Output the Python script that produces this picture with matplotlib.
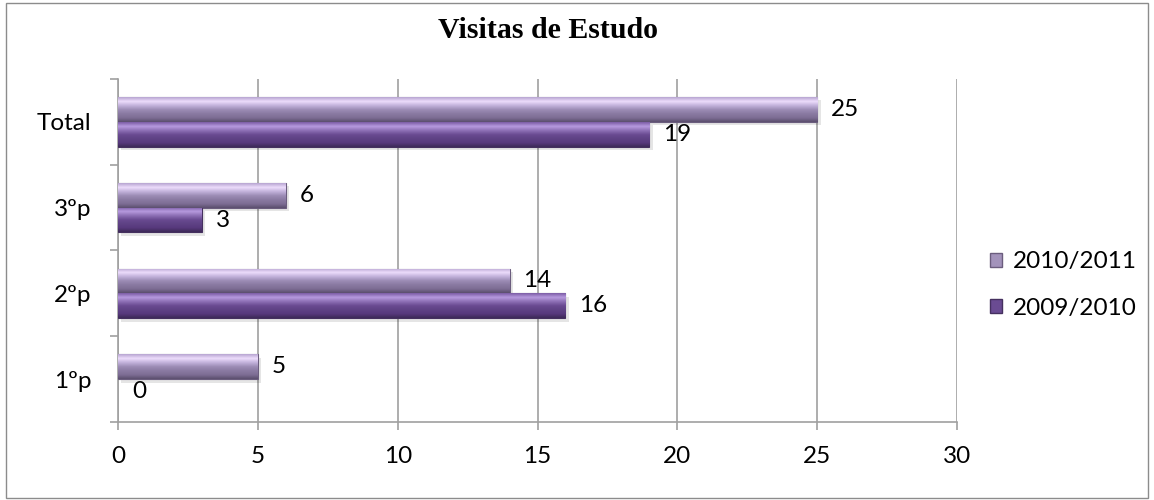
import numpy as np
import matplotlib
matplotlib.use("Agg")
import matplotlib.pyplot as plt
from matplotlib.colors import LinearSegmentedColormap
from matplotlib.patches import Patch, Rectangle

categories = ["1ºp", "2ºp", "3ºp", "Total"]
s2010_2011 = [5, 14, 6, 25]
s2009_2010 = [0, 16, 3, 19]
series_names = ["2010/2011", "2009/2010"]
xticks = [0, 5, 10, 15, 20, 25, 30]

# gradient colours (bottom -> top) per series
grad_light = ["#5c4f6e", "#7e6e95", "#8a7aa2", "#9d8db6", "#c3b2dc", "#ecdcfb", "#b8a6d2"]
grad_dark = ["#3d2a58", "#58397d", "#5f4285", "#6a4b92", "#8e70b6", "#b79ade", "#7c5da6"]
edge_light = "#6b5d7e"
edge_dark = "#45305f"

font_main = ["Lato", "DejaVu Sans"]
fs = 17.5

fig = plt.figure(figsize=(11.54, 5.0), dpi=100)
ax = fig.add_axes([0.1023, 0.156, 0.727, 0.686])

y = np.arange(len(categories))
h = 0.29
off = h / 2

def grad_bars(ypos, vals, colors, edge):
    cmap = LinearSegmentedColormap.from_list("g", colors)
    g = np.linspace(0, 1, 64).reshape(-1, 1)
    # shadow
    sh = ax.barh(ypos - 0.04, vals, height=h, left=0.12, color="black", alpha=0.10,
                 zorder=2, linewidth=0)
    bars = ax.barh(ypos, vals, height=h, color=colors[3], edgecolor=edge,
                   linewidth=0.8, zorder=3)
    for b, s in zip(bars, sh):
        x0, y0 = b.get_x(), b.get_y()
        w, hh = b.get_width(), b.get_height()
        if w <= 0:
            b.set_visible(False)
            s.set_visible(False)
            continue
        im = ax.imshow(g, extent=[x0, x0 + w, y0, y0 + hh], origin="lower",
                       aspect="auto", cmap=cmap, zorder=3.5, interpolation="bilinear")
        im.set_clip_path(b)
    return bars

b1 = grad_bars(y + off, s2010_2011, grad_light, edge_light)
b2 = grad_bars(y - off, s2009_2010, grad_dark, edge_dark)

for bars, vals in ((b1, s2010_2011), (b2, s2009_2010)):
    for b, v in zip(bars, vals):
        ax.annotate(str(v), (v, b.get_y() + b.get_height() / 2),
                    xytext=(10, 0), textcoords="offset points",
                    ha="left", va="center", fontsize=fs, family=font_main,
                    zorder=5)

ax.set_xlim(0, 30)
ax.set_ylim(-0.5, len(categories) - 0.5)
ax.set_xticks(xticks)
ax.set_xticklabels([str(t) for t in xticks], fontsize=fs, family=font_main)
ax.xaxis.grid(True, color="#a0a0a0", linewidth=1.2, zorder=0)
ax.set_axisbelow(True)

ax.set_yticks(np.arange(-0.5, len(categories)))
ax.set_yticklabels([])
ax.set_yticks(y, minor=True)
ax.set_yticklabels(categories, minor=True, fontsize=fs, family=font_main)
ax.tick_params(axis="y", which="major", length=6, color="#a0a0a0", width=1.2)
ax.tick_params(axis="y", which="minor", length=0, pad=19)
ax.tick_params(axis="x", length=6, color="#a0a0a0", width=1.2, pad=11)

for s in ("top", "right"):
    ax.spines[s].set_visible(False)
for s in ("left", "bottom"):
    ax.spines[s].set_color("#a0a0a0")
    ax.spines[s].set_linewidth(1.2)

fig.text(0.475, 0.938, "Visitas de Estudo", ha="center", va="center",
         fontsize=21.5, fontweight="bold", family=["Liberation Serif", "DejaVu Serif"])

handles = [Patch(facecolor="#a393bb", edgecolor=edge_light),
           Patch(facecolor="#6a4b92", edgecolor=edge_dark)]
fig.legend(handles, series_names, loc="center left", bbox_to_anchor=(0.858, 0.43),
           frameon=False, borderpad=0, borderaxespad=0, handlelength=0.5,
           handleheight=0.5, handletextpad=0.45, labelspacing=1.05,
           prop={"family": font_main, "size": fs})

fig.patches.append(Rectangle((0.005, 0.005), 0.99, 0.99, transform=fig.transFigure,
                             fill=False, edgecolor="#8c8c8c", linewidth=1.0))

fig.savefig("out.png", dpi=100)
